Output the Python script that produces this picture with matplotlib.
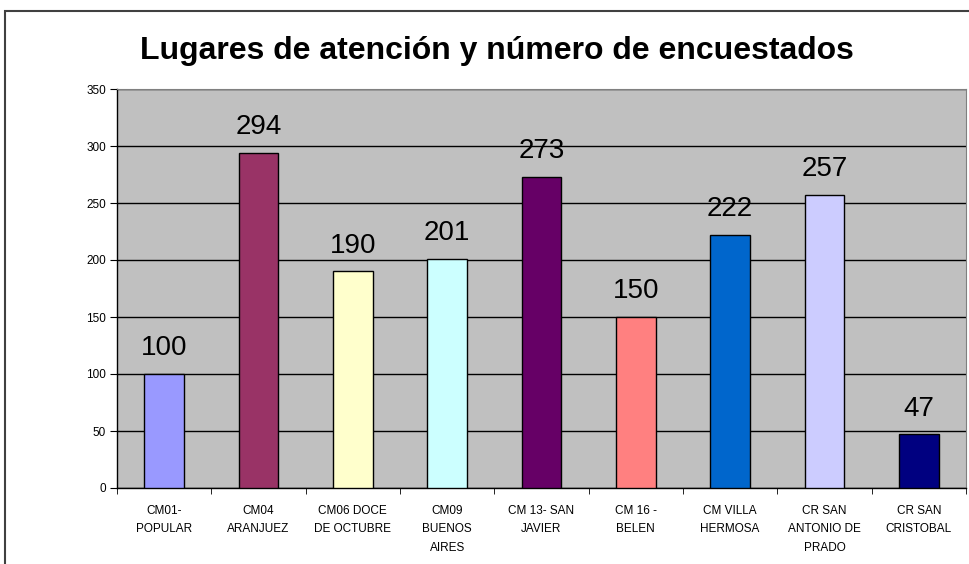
import matplotlib
matplotlib.use('Agg')
import matplotlib.pyplot as plt
from matplotlib.patches import Rectangle
import numpy as np

categories = ['CM01-\nPOPULAR', 'CM04\nARANJUEZ', 'CM06 DOCE\nDE OCTUBRE', 'CM09\nBUENOS\nAIRES',
              'CM 13- SAN\nJAVIER', 'CM 16 -\nBELEN', 'CM VILLA\nHERMOSA', 'CR SAN\nANTONIO DE\nPRADO',
              'CR SAN\nCRISTOBAL']
values = [100, 294, 190, 201, 273, 150, 222, 257, 47]
colors = ['#9999FF', '#993366', '#FFFFCC', '#CCFFFF', '#660066', '#FF8080', '#0066CC', '#CCCCFF', '#000080']
yticks = [0, 50, 100, 150, 200, 250, 300, 350]

plt.rcParams['font.family'] = ['Liberation Sans', 'DejaVu Sans']

fig = plt.figure(figsize=(9.7, 5.64), dpi=100)
# outer chart frame
fig.patches.append(Rectangle((5 / 970, -0.1), 1.1, 1 - 11 / 564 + 0.1, transform=fig.transFigure,
                             fill=False, edgecolor='#404040', linewidth=1.5))

ax = fig.add_axes([117 / 970, 76 / 564, 849 / 970, 399 / 564])
ax.set_facecolor('#C0C0C0')
x = np.arange(len(values))
bars = ax.bar(x, values, width=0.42, color=colors, edgecolor='black', linewidth=1, zorder=3)
for xi, v in zip(x, values):
    ax.text(xi, v + 11, str(v), ha='center', va='bottom', fontsize=20, zorder=4)

ax.set_xlim(-0.5, len(values) - 0.5)
ax.set_ylim(0, 350)
ax.set_yticks(yticks)
ax.yaxis.grid(True, color='black', linewidth=1, zorder=0)
ax.set_axisbelow(True)
ax.set_xticks(x)
ax.set_xticklabels(categories, fontsize=8.5, linespacing=1.75)
ax.set_xticks(np.arange(-0.5, len(values)), minor=True)
ax.tick_params(axis='x', which='major', length=0, pad=12)
ax.tick_params(axis='x', which='minor', length=4, direction='out')
ax.tick_params(axis='y', labelsize=8.5, length=5, pad=3)
for s in ['left', 'bottom']:
    ax.spines[s].set_linewidth(1)
ax.spines['top'].set_color('#808080')
ax.spines['right'].set_color('#808080')

fig.text(497 / 970, 1 - 51 / 564, 'Lugares de atención y número de encuestados',
         ha='center', va='center', fontsize=23, fontweight='bold')

fig.savefig('out.png', dpi=100)
